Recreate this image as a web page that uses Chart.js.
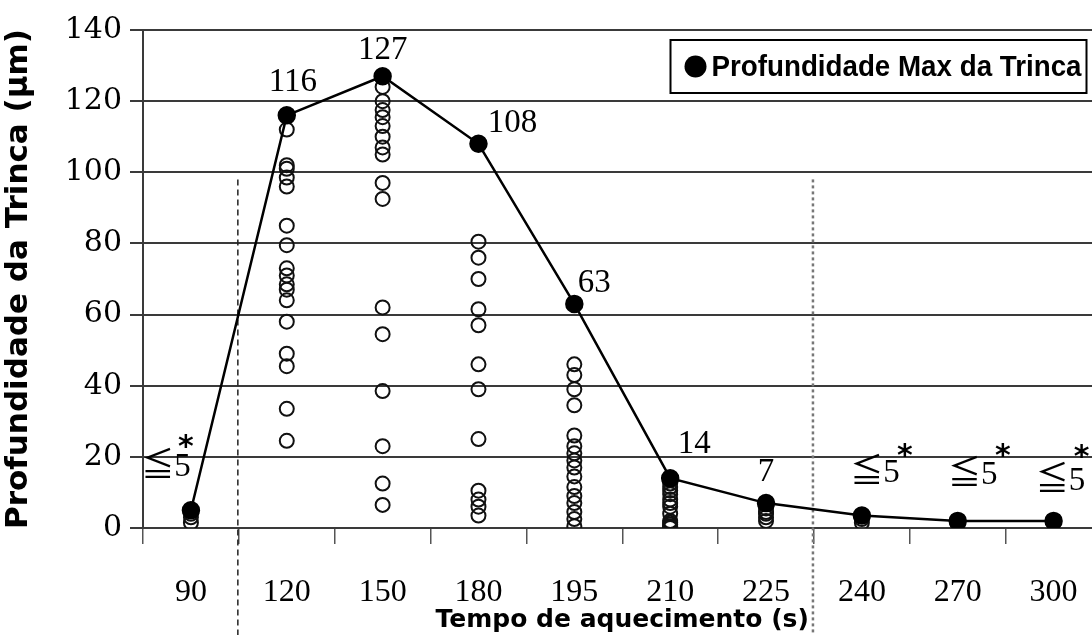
<!DOCTYPE html>
<html>
<head>
<meta charset="utf-8">
<title>Profundidade da Trinca</title>
<script src="https://cdn.jsdelivr.net/npm/chart.js@4.4.1/dist/chart.umd.min.js"></script>
<style>
  html, body { margin: 0; padding: 0; background: #fff; overflow: hidden; }
  #wrap { width: 1092px; height: 635px; overflow: hidden; }
</style>
</head>
<body>
<div id="wrap"><canvas id="chart" width="1112" height="635"></canvas></div>
<script>
// Heating time categories (s)
const categories = ['90', '120', '150', '180', '195', '210', '225', '240', '270', '300'];

// Maximum crack depth per heating time (µm)
const maxDepth = [5, 116, 127, 108, 63, 14, 7, 3.5, 2, 2];
const detectLimit = 5;

// Individual crack depths measured at each heating time (µm)
const depth90 = [4, 3, 1.5];
const depth120 = [112, 102, 101, 98.5, 96, 85, 79.5, 73, 71, 68.5, 67, 64, 58, 49, 45.5, 33.5, 24.5];
const depth150 = [124, 120, 117.5, 115.5, 113, 110, 107, 105, 97, 92.5, 62, 54.5, 38.5, 23, 12.5, 6.5];
const depth180 = [80.5, 76, 70, 61.5, 57, 46, 39, 25, 10.5, 8, 6, 3.5];
const depth195 = [46, 43, 39, 34.5, 26, 23, 21, 19, 17, 14.5, 11.5, 9, 7, 4.5, 2.5, 0.5];
const depth210 = [13.5, 12.5, 11.5, 10.5, 9.5, 8, 7, 6, 4, 2, 1.5, 1, 0.5, 0];
const depth225 = [5.5, 4.5, 4, 3, 2];
const depth240 = [2.5, 1.5];
const depth270 = [1.5, 1];
const depth300 = [1.5];

const yTicks = [0, 20, 40, 60, 80, 100, 120, 140];

const allDepths = [depth90, depth120, depth150, depth180, depth195, depth210, depth225, depth240, depth270, depth300];
const crackPoints = [];
allDepths.forEach((list, i) => {
  list.forEach(v => crackPoints.push({ x: categories[i], y: v }));
});

// Dashed separators between heating regimes
const regimeLines = {
  id: 'regimeLines',
  beforeDatasetsDraw(chart) {
    const { ctx, scales: { x, y } } = chart;
    const top = y.getPixelForValue(98);
    const styles = [
      { after: 0, dash: [6, 4], width: 1.5, color: '#222' },
      { after: 6, dash: [3, 3], width: 2.5, color: '#777' }
    ];
    ctx.save();
    styles.forEach(s => {
      const px = (x.getPixelForValue(s.after) + x.getPixelForValue(s.after + 1)) / 2 - 1;
      ctx.beginPath();
      ctx.setLineDash(s.dash);
      ctx.lineWidth = s.width;
      ctx.strokeStyle = s.color;
      ctx.moveTo(px, top);
      ctx.lineTo(px, chart.height);
      ctx.stroke();
    });
    ctx.restore();
  }
};

// Value labels next to the max-depth points
const valueLabels = {
  id: 'valueLabels',
  afterDatasetsDraw(chart) {
    const { ctx } = chart;
    const meta = chart.getDatasetMeta(0);
    const offsets = [[-25, -43], [6, -33], [0, -26], [34, -21], [20, -21], [24, -34], [0, -31], [13, -42], [15, -46], [7, -40]];
    const starOffsets = [[-5, -62], null, null, null, null, null, null, [43, -58], [45, -64], [28, -63]];
    ctx.save();
    ctx.fillStyle = '#000';
    ctx.textAlign = 'center';
    ctx.textBaseline = 'middle';
    meta.data.forEach((pt, i) => {
      const v = maxDepth[i];
      const [dx, dy] = offsets[i];
      ctx.font = '33px "Liberation Serif", "Noto Sans CJK JP", serif';
      if (v <= detectLimit) {
        ctx.fillText('≦' + detectLimit, pt.x + dx, pt.y + dy);
        const [sx, sy] = starOffsets[i];
        ctx.font = 'bold 30px "DejaVu Sans", sans-serif';
        ctx.fillText('*', pt.x + sx, pt.y + sy);
      } else {
        ctx.fillText(String(v), pt.x + dx, pt.y + dy);
      }
    });
    ctx.restore();
  }
};

// Boxed legend in the upper right of the plot
const boxLegend = {
  id: 'boxLegend',
  afterDraw(chart) {
    const { ctx, chartArea } = chart;
    const right = chartArea.right - 15;
    const left = right - 416;
    const top = chartArea.top + 10;
    const h = 53;
    ctx.save();
    ctx.fillStyle = '#fff';
    ctx.fillRect(left, top, right - left, h);
    ctx.lineWidth = 2;
    ctx.strokeStyle = '#000';
    ctx.strokeRect(left, top, right - left, h);
    ctx.beginPath();
    ctx.arc(left + 25, top + h / 2, 11, 0, Math.PI * 2);
    ctx.fillStyle = '#000';
    ctx.fill();
    ctx.font = 'bold 30px "Liberation Sans", sans-serif';
    ctx.textBaseline = 'middle';
    ctx.textAlign = 'left';
    ctx.fillText(chart.data.datasets[0].label, left + 41, top + h / 2 + 1, 370);
    ctx.restore();
  }
};

const gridColor = '#3a3a3a';

new Chart(document.getElementById('chart'), {
  type: 'line',
  data: {
    labels: categories,
    datasets: [
      {
        label: 'Profundidade Max da Trinca',
        data: maxDepth,
        borderColor: '#000',
        borderWidth: 2.5,
        backgroundColor: '#000',
        pointRadius: 8,
        pointBackgroundColor: '#000',
        pointBorderColor: '#000',
        tension: 0,
        order: 0
      },
      {
        label: 'Trincas',
        data: crackPoints,
        showLine: false,
        pointRadius: 7,
        pointBorderWidth: 2,
        pointBorderColor: '#111',
        pointBackgroundColor: 'rgba(255,255,255,0)',
        order: 1
      }
    ]
  },
  options: {
    responsive: false,
    devicePixelRatio: 1,
    animation: false,
    layout: { padding: { top: 30, right: 9, left: 0, bottom: 0 } },
    plugins: {
      legend: { display: false },
      tooltip: { enabled: false }
    },
    scales: {
      x: {
        type: 'category',
        offset: true,
        grid: {
          offset: true,
          drawOnChartArea: false,
          drawTicks: true,
          tickLength: 16,
          color: '#555',
          lineWidth: 1.5
        },
        border: { color: gridColor, width: 2 },
        ticks: {
          color: '#000',
          padding: 29,
          maxRotation: 0,
          font: { family: '"Liberation Serif", serif', size: 32 }
        },
        title: {
          display: true,
          text: 'Tempo de aquecimento (s)',
          color: '#000',
          padding: { top: 0, bottom: 0 },
          font: { family: '"DejaVu Sans", sans-serif', size: 25, weight: 'bold' }
        },
        afterFit(scale) { scale.height = 107; }
      },
      y: {
        min: 0,
        max: 140,
        afterBuildTicks(scale) { scale.ticks = yTicks.map(v => ({ value: v })); },
        grid: {
          color: gridColor,
          lineWidth: 2,
          tickLength: 13
        },
        border: { color: gridColor, width: 2 },
        ticks: {
          color: '#000',
          padding: 8,
          font: { family: '"DejaVu Serif", serif', size: 30 }
        },
        title: {
          display: true,
          text: 'Profundidade da Trinca (μm)',
          color: '#000',
          padding: { top: 0, bottom: 0 },
          font: { family: '"DejaVu Sans", sans-serif', size: 31, weight: 'bold' }
        },
        afterFit(scale) { scale.width = 143; }
      }
    }
  },
  plugins: [regimeLines, valueLabels, boxLegend]
});
</script>
</body>
</html>
